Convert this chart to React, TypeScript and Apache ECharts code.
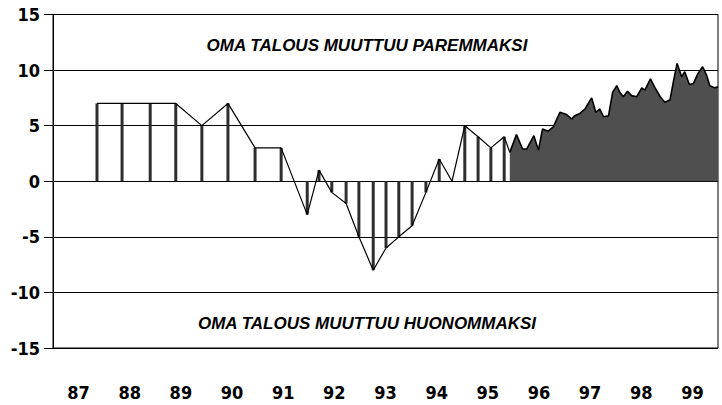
import React, { useEffect, useRef } from "react";
import * as echarts from "echarts";

// Year labels
const yearLabels = ["87", "88", "89", "90", "91", "92", "93", "94", "95", "96", "97", "98", "99"];

// Semi-annual / quarterly survey points (year fraction, balance)
const barYears = [87.86, 88.35, 88.9, 89.4, 89.91, 90.42, 90.95, 91.46, 91.97, 92.2, 92.45, 92.73, 92.98, 93.26, 93.51, 93.76, 94.02, 94.29, 94.55, 94.8, 95.05, 95.31, 95.56, 95.82];
const barValues = [7, 7, 7, 7, 5, 7, 3, 3, -3, 1, -1, -2, -5, -8, -6, -5, -4, -1, 2, 0, 5, 4, 3, 4];

// Monthly survey points
const monthYears = [95.93, 96.06, 96.18, 96.26, 96.4, 96.49, 96.57, 96.68, 96.78, 96.91, 97.04, 97.14, 97.2, 97.3, 97.4, 97.53, 97.61, 97.69, 97.76, 97.86, 97.94, 98.02, 98.08, 98.15, 98.23, 98.31, 98.41, 98.51, 98.57, 98.68, 98.77, 98.87, 98.96, 99.06, 99.13, 99.2, 99.29, 99.35, 99.44, 99.52, 99.61, 99.7, 99.78, 99.84, 99.94, 100.0];
const monthValues = [2.6, 4.2, 2.9, 2.9, 4.1, 2.8, 4.7, 4.5, 4.9, 6.2, 6.0, 5.6, 5.9, 6.1, 6.5, 7.5, 6.2, 6.5, 5.8, 5.9, 8.0, 8.6, 8.0, 7.6, 8.1, 7.7, 7.6, 8.4, 8.2, 9.2, 8.4, 7.6, 7.1, 7.3, 9.0, 10.6, 9.4, 9.85, 8.7, 8.8, 9.7, 10.3, 9.5, 8.6, 8.4, 8.5];

const topText = "OMA TALOUS MUUTTUU PAREMMAKSI";
const bottomText = "OMA TALOUS MUUTTUU HUONOMMAKSI";

const numFont = "'Liberation Sans Narrow', 'DejaVu Sans Condensed', 'Arial Narrow', sans-serif";
const titleFont = "'Liberation Sans', Arial, sans-serif";

export default function App() {
  const ref = useRef<HTMLDivElement>(null);
  useEffect(() => {
    if (!ref.current) return;
    const chart = echarts.init(ref.current, undefined, { renderer: "svg" });
    const barData = barYears.map((x, i) => [x, barValues[i]]);
    const lineData = barData.concat([[monthYears[0], monthValues[0]]]);
    const areaData = monthYears.map((x, i) => [x, monthValues[i]]);
    chart.setOption({
      animation: false,
      backgroundColor: "#fff",
      grid: {
        left: 53,
        right: 4,
        top: 14.5,
        bottom: 57,
        show: true,
        borderColor: "#000",
        borderWidth: 1,
        backgroundColor: "transparent",
      },
      xAxis: [
        {
          type: "value",
          min: 87,
          max: 100,
          show: false,
          splitLine: { show: false },
        },
        {
          type: "category",
          data: yearLabels,
          position: "bottom",
          boundaryGap: true,
          axisLine: { show: false },
          axisTick: { show: false },
          splitLine: { show: false },
          axisLabel: {
            margin: 35,
            color: "#000",
            fontFamily: numFont,
            fontWeight: "bold",
            fontSize: 18,
          },
        },
      ],
      yAxis: {
        type: "value",
        min: -15,
        max: 15,
        interval: 5,
        axisLine: { show: true, lineStyle: { color: "#000", width: 1 } },
        axisTick: { show: true, inside: false, length: 9, lineStyle: { color: "#000" } },
        splitLine: { show: true, lineStyle: { color: "#000", width: 1 } },
        axisLabel: {
          margin: 13,
          color: "#000",
          fontFamily: numFont,
          fontWeight: "bold",
          fontSize: 18,
        },
      },
      series: [
        {
          type: "bar",
          xAxisIndex: 0,
          data: barData,
          barWidth: 3,
          itemStyle: { color: "#2e2e2e" },
          z: 2,
        },
        {
          type: "line",
          xAxisIndex: 0,
          data: lineData,
          symbol: "none",
          lineStyle: { color: "#000", width: 1.2 },
          z: 3,
        },
        {
          type: "line",
          xAxisIndex: 0,
          data: areaData,
          symbol: "none",
          lineStyle: { color: "#000", width: 1.6 },
          areaStyle: { color: "#4f4f4f", opacity: 1 },
          z: 3,
        },
      ],
      graphic: [
        {
          type: "text",
          x: 367,
          y: 45,
          style: {
            text: topText,
            font: `italic bold 17px ${titleFont}`,
            fill: "#000",
            align: "center",
            verticalAlign: "middle",
          },
        },
        {
          type: "text",
          x: 367,
          y: 323,
          style: {
            text: bottomText,
            font: `italic bold 17px ${titleFont}`,
            fill: "#000",
            align: "center",
            verticalAlign: "middle",
          },
        },
      ],
    });
    return () => chart.dispose();
  }, []);
  return <div ref={ref} style={{ width: 722, height: 405, position: "absolute", left: 0, top: 0 }} />;
}
